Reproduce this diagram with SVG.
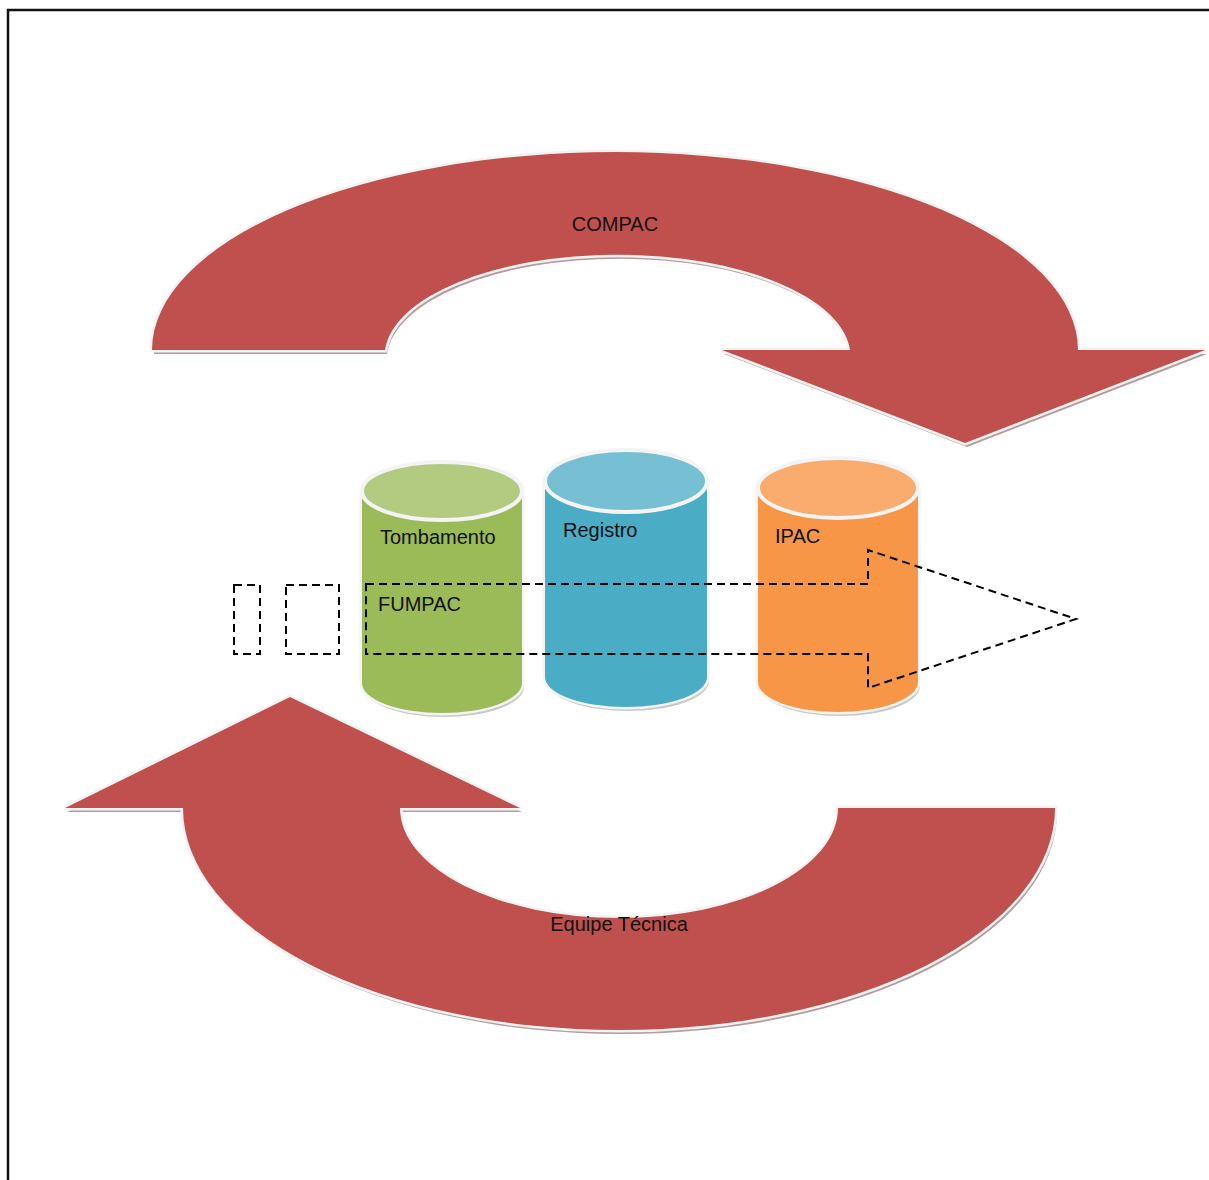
<svg xmlns="http://www.w3.org/2000/svg" width="1209" height="1180" viewBox="0 0 1209 1180">
<style>
.shadow{fill:#a78a8b;opacity:0.85}
.red{fill:#c0504d;stroke:#f3f3f3;stroke-width:5;stroke-linejoin:miter;paint-order:stroke}
.cshadow{fill:#9a9a9a;opacity:0.55}
.body{stroke:#f4f4f4;stroke-width:5;paint-order:stroke}
.cap{stroke:#f4f4f4;stroke-width:4}
.dash{fill:none;stroke:#000;stroke-width:2;stroke-dasharray:8 5}
.lbl{font-family:"Liberation Sans",Arial,sans-serif;font-size:20px;fill:#111}
</style>
<rect width="1209" height="1180" fill="#fff"/>
<path d="M8,1180 V10 H1209" fill="none" stroke="#111" stroke-width="2.5"/>

<g id="compac">
<path class="shadow" transform="translate(2,4)" d="M152,350 A463,198 0 0 1 1078,350 L1205,350 L965,443 L722,350 L850,350 A233,102 0 0 0 385,350 Z"/>
<path class="red" d="M152,350 A463,198 0 0 1 1078,350 L1205,350 L965,443 L722,350 L850,350 A233,102 0 0 0 385,350 Z"/>
<text class="lbl" x="615" y="231" text-anchor="middle">COMPAC</text>
</g>

<g id="equipe">
<path class="shadow" transform="translate(2,4)" d="M183,808 A436,222 0 0 0 1055,808 L838,808 A219,110 0 0 1 400,808 L520,808 L290,697 L65,808 Z"/>
<path class="red" d="M183,808 A436,222 0 0 0 1055,808 L838,808 A219,110 0 0 1 400,808 L520,808 L290,697 L65,808 Z"/>
<text class="lbl" x="619" y="931" text-anchor="middle">Equipe Técnica</text>
</g>

<g id="tombamento">
<path class="cshadow" transform="translate(2,4)" d="M362,491 V683 A80,30 0 0 0 522,683 V491 Z"/>
<path class="body" fill="#9bbb59" d="M362,491 V683 A80,30 0 0 0 522,683 V491 Z"/>
<ellipse class="cap" cx="442" cy="491" rx="80" ry="29" fill="#b2cb80"/>
<text class="lbl" x="380" y="544">Tombamento</text>
</g>

<g id="registro">
<path class="cshadow" transform="translate(2,4)" d="M545,481 V677 A81,30 0 0 0 707,677 V481 Z"/>
<path class="body" fill="#4bacc6" d="M545,481 V677 A81,30 0 0 0 707,677 V481 Z"/>
<ellipse class="cap" cx="626" cy="481" rx="81" ry="31" fill="#77bfd3"/>
<text class="lbl" x="563" y="537">Registro</text>
</g>

<g id="ipac">
<path class="cshadow" transform="translate(2,4)" d="M758,488 V682 A80,30 0 0 0 918,682 V488 Z"/>
<path class="body" fill="#f79646" d="M758,488 V682 A80,30 0 0 0 918,682 V488 Z"/>
<ellipse class="cap" cx="838" cy="488" rx="80" ry="30" fill="#f9ac6d"/>
<text class="lbl" x="775" y="543">IPAC</text>
</g>

<g id="fumpac">
<path class="dash" d="M366,584 H868 V550 L1076,619 L868,688 V654 H366 Z"/>
<text class="lbl" x="378" y="611">FUMPAC</text>
</g>

<g id="connectors">
<rect class="dash" x="234" y="585" width="26" height="69"/>
<rect class="dash" x="286" y="585" width="53" height="69"/>
</g>
</svg>
